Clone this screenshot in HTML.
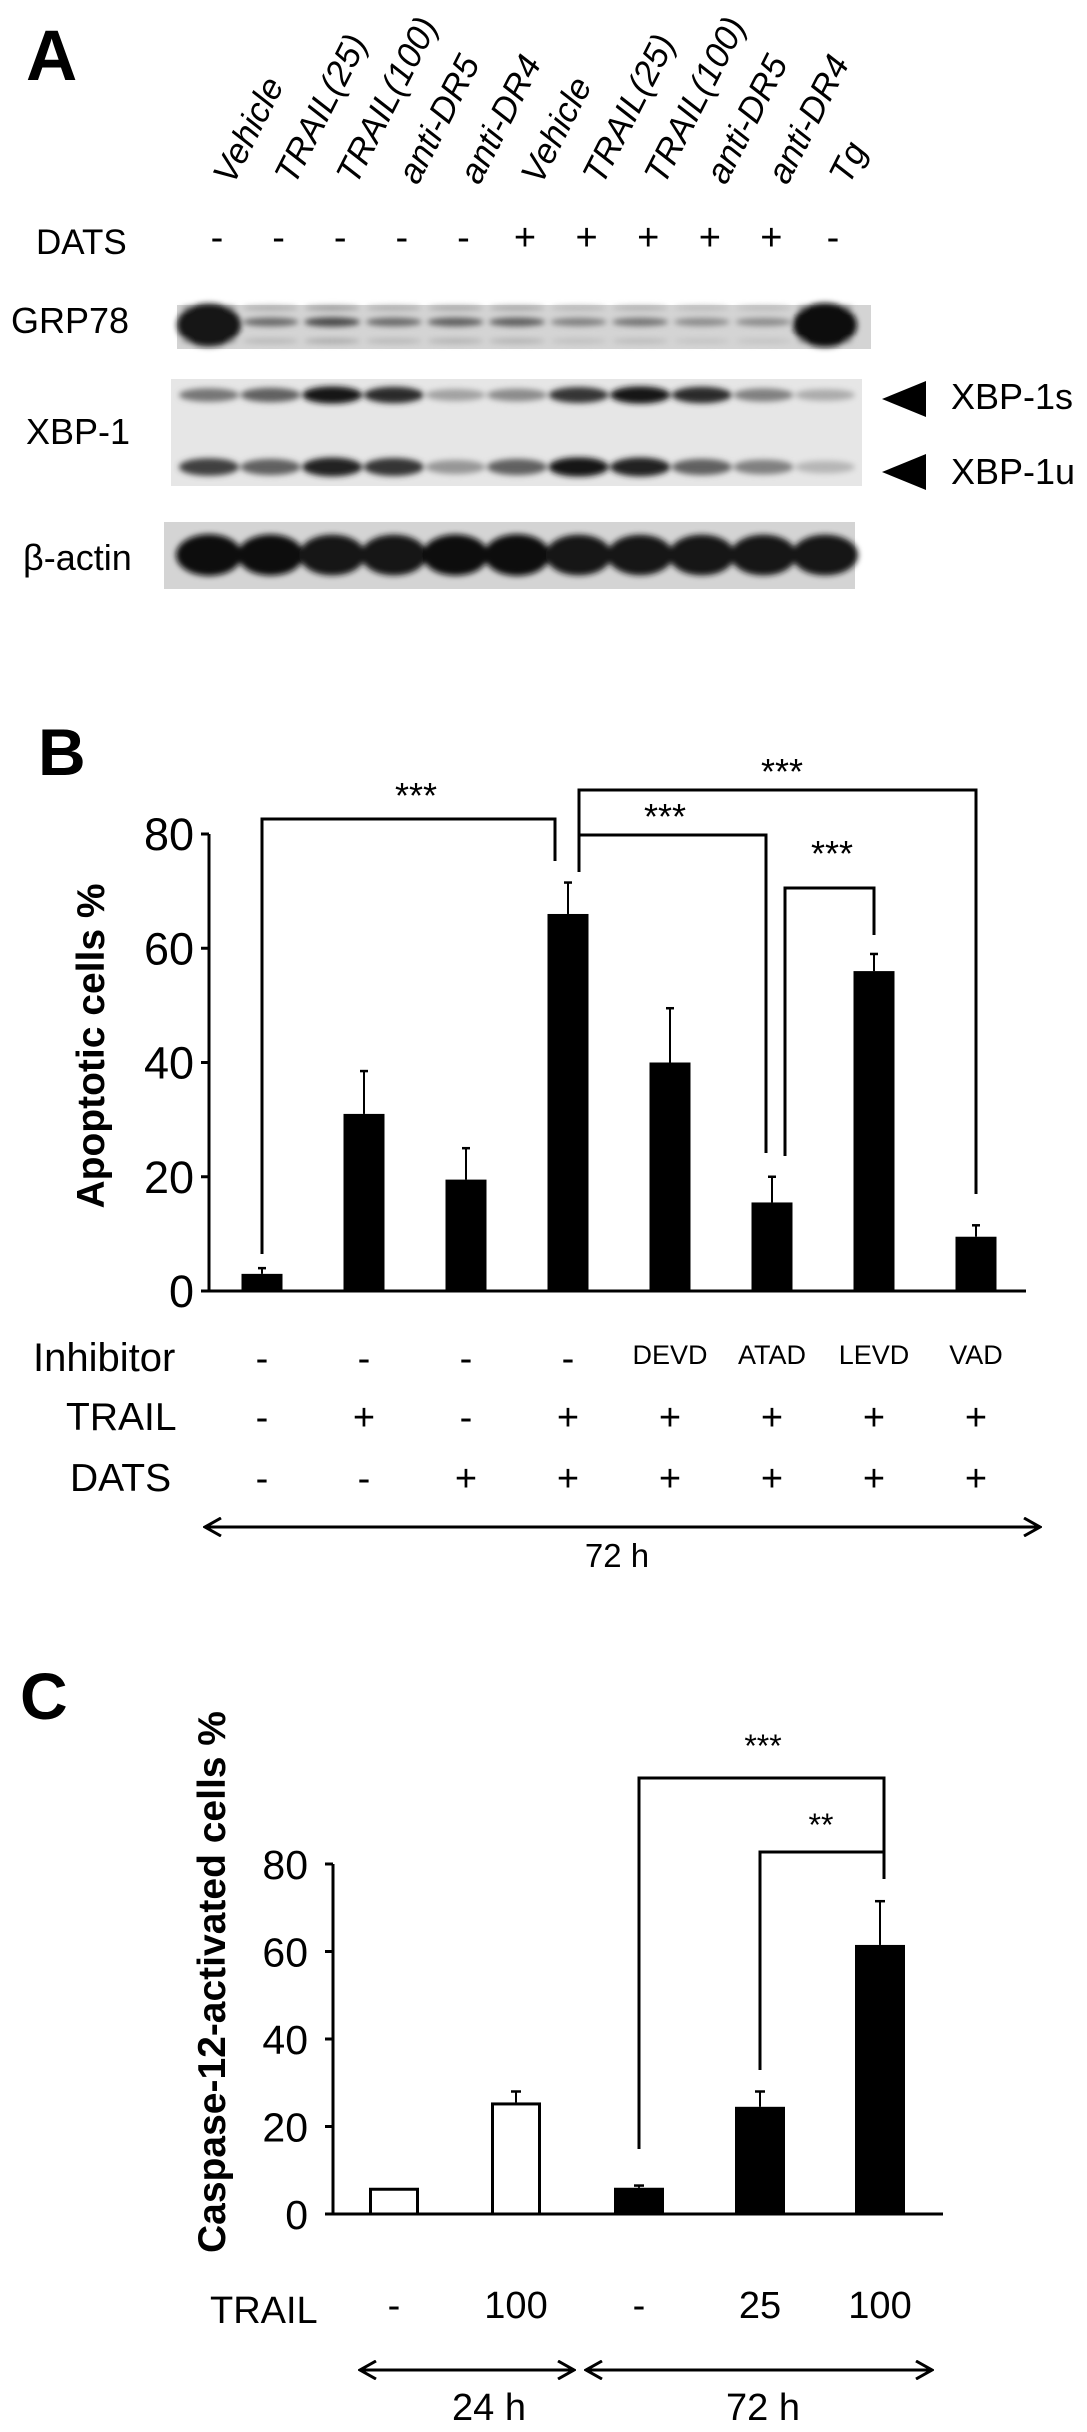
<!DOCTYPE html>
<html><head><meta charset="utf-8"><style>
html,body{margin:0;padding:0;background:#fff}
svg{display:block}
text{font-family:"Liberation Sans",sans-serif;fill:#000}
</style></head><body>
<svg id="fig" xmlns="http://www.w3.org/2000/svg" width="1087" height="2432" viewBox="0 0 1087 2432">
<defs>
<filter id="blur" x="-30%" y="-80%" width="160%" height="260%"><feGaussianBlur stdDeviation="3"/></filter>
<marker id="ah" viewBox="0 0 20 20" refX="18" refY="10" markerWidth="20" markerHeight="20" orient="auto-start-reverse" markerUnits="userSpaceOnUse"><path d="M2,1 L18,10 L2,19" fill="none" stroke="#000" stroke-width="3"/></marker>
</defs>
<g id="panelA"></g>
<g id="panelB"></g>
<g id="panelC"></g>
</svg>
<script>
// ---- Panel A data ----
const laneLabels = ["Vehicle","TRAIL(25)","TRAIL(100)","anti-DR5","anti-DR4","Vehicle","TRAIL(25)","TRAIL(100)","anti-DR5","anti-DR4","Tg"];
const datsSigns = ["-","-","-","-","-","+","+","+","+","+","-"];
const grp78 = [0.9,0.55,0.7,0.55,0.6,0.6,0.45,0.5,0.4,0.4,1.0];
const xbp1s = [0.5,0.6,0.95,0.85,0.3,0.4,0.8,0.95,0.85,0.45,0.25];
const xbp1u = [0.75,0.6,0.9,0.8,0.35,0.6,0.95,0.9,0.6,0.45,0.2];
const actin = [1,0.97,0.95,0.95,0.97,1,0.95,0.93,0.95,0.95,0.95];
// ---- Panel B data ----
const bCats = ["1","2","3","4","5","6","7","8"];
const bValues = [3,31,19.5,66,40,15.5,56,9.5];
const bErrors = [1,7.5,5.5,5.5,9.5,4.5,3,2];
const bTicks = [0,20,40,60,80];
const bInhibitor = ["-","-","-","-","DEVD","ATAD","LEVD","VAD"];
const bTrail = ["-","+","-","+","+","+","+","+"];
const bDats = ["-","-","+","+","+","+","+","+"];
// ---- Panel C data ----
const cCats = ["1","2","3","4","5"];
const cValues = [6,25.5,6,24.5,61.5];
const cErrors = [0,2.5,0.5,3.5,10];
const cFilled = [false,false,true,true,true];
const cTicks = [0,20,40,60,80];
const cTrail = ["-","100","-","25","100"];

const NS="http://www.w3.org/2000/svg";
function mk(parent,tag,attrs,txt){const e=document.createElementNS(NS,tag);for(const k in attrs)e.setAttribute(k,attrs[k]);if(txt!==undefined)e.textContent=txt;parent.appendChild(e);return e;}
function line(g,x1,y1,x2,y2,w,name){const l=mk(g,'line',{x1,y1,x2,y2,stroke:'#000','stroke-width':w||3});if(name){}return l;}

// ===== Panel A =====
const A=document.getElementById('panelA');
function lx(i){return 217+61.6*i;}
function bandX(i){return lx(i)-8;}
let t=mk(A,'text',{x:26,y:80,'font-size':71,'font-weight':'bold'},'A');


laneLabels.forEach((s,i)=>{
  const e=mk(A,'text',{x:0,y:0,'font-size':35,'font-style':'italic',transform:`translate(${lx(i)+16},${186}) rotate(-63)`},s);
  
  
});
t=mk(A,'text',{x:36,y:254,'font-size':35},'DATS');


datsSigns.forEach((s,i)=>{
  const e=mk(A,'text',{x:lx(i),y:250,'font-size':38,'text-anchor':'middle'},s);
  
  
});
function blot(name,label,tx,ty,x0,x1,y0,y1,bg,bands){
  const g=mk(A,'g',{});
  
  
  const l=mk(g,'text',{x:tx,y:ty,'font-size':36},label);
  
  
  mk(g,'rect',{x:x0,y:y0,width:x1-x0,height:y1-y0,fill:bg});
  const bg2=mk(g,'g',{filter:'url(#blur)'});
  bands.forEach(b=>{
    b.vals.forEach((v,i)=>{
      if(v<=0)return;
      const c=Math.round(225-215*v);
      mk(bg2,'ellipse',{cx:bandX(i),cy:b.y,rx:b.rx,ry:b.ry*(0.6+0.5*v),fill:`rgb(${c},${c},${c})`});
    });
  });
}
const grpBig=grp78.map((v,i)=>i===10?1:(i===0?0.95:0));
blot('grp78-blot','GRP78',11,333,177,871,305,349,'#d4d4d4',[
  {y:308,vals:grp78.map(v=>v*0.5),rx:28,ry:3},
  {y:322,vals:grp78,rx:28,ry:5},
  {y:341,vals:grp78.map(v=>v*0.35),rx:28,ry:4},
  {y:325,vals:grpBig,rx:32,ry:20}]);
blot('xbp1-blot','XBP-1',26,444,171,862,379,486,'#e6e6e6',[
  {y:395,vals:xbp1s,rx:30,ry:8},
  {y:467,vals:xbp1u,rx:30,ry:9}]);
blot('actin-blot','\u03b2-actin',23,570,164,855,522,589,'#d4d4d4',[
  {y:555,vals:actin,rx:33,ry:19}]);
[['XBP-1s',399,409],['XBP-1u',472,484]].forEach(([s,y,by])=>{
  const p=mk(A,'polygon',{points:`882,${y} 926,${y-18} 926,${y+18}`,fill:'#000'});
  
  
  const e=mk(A,'text',{x:951,y:by,'font-size':36},s);
  
  
});

function bracket(g,xa,ya,xb,yb,ytop,label,tx,ty,fs){
  const p=mk(g,'polyline',{points:`${xa},${ya} ${xa},${ytop} ${xb},${ytop} ${xb},${yb}`,fill:'none',stroke:'#000','stroke-width':3});
  
  
  const e=mk(g,'text',{x:tx,y:ty,'font-size':fs||36,'text-anchor':'middle'},label);
  
  
}

// ===== Panel B =====
const B=document.getElementById('panelB');
const bAxisX=209, bY0=1291, bY80=834;
const bStep=102, bFirst=262, bW=41;
function bx(i){return bFirst+i*bStep;}
function by(v){return bY0-(v/80)*(bY0-bY80);}
t=mk(B,'text',{x:38,y:775,'font-size':66,'font-weight':'bold'},'B');


line(B,bAxisX,by(80),bAxisX,bY0,3,'y-axis');
line(B,bAxisX-8,bY0,1026,bY0,3,'x-axis');
bTicks.forEach(v=>{
  line(B,bAxisX-8,by(v),bAxisX,by(v),3);
  const e=mk(B,'text',{x:194,y:by(v)+16,'font-size':45,'text-anchor':'end'},String(v));
  
  
});
t=mk(B,'text',{x:0,y:0,'font-size':39,'font-weight':'bold','text-anchor':'middle',transform:`translate(104,1046) rotate(-90)`},'Apoptotic cells %');


bValues.forEach((v,i)=>{
  const x=bx(i);
  const r=mk(B,'rect',{x:x-bW/2,y:by(v),width:bW,height:bY0-by(v),fill:'#000'});
  
  
  const ey=by(v+bErrors[i]);
  line(B,x,by(v),x,ey,2,'error-bar');
  line(B,x-4,ey,x+4,ey,2.5);
});
bracket(B,bx(0),1254,555,861,819,'***',416,808);
bracket(B,579,872,bx(7),1194,790,'***',782,784);
bracket(B,579,872,bx(5)-6,1153,835,'***',665,829);
bracket(B,785,1156,bx(6),935,888,'***',832,866);
[['Inhibitor',bInhibitor,1371,33,40],['TRAIL',bTrail,1430,66,39],['DATS',bDats,1491,70,39]].forEach(([lab,arr,y,x0,fs])=>{
  const e=mk(B,'text',{x:x0,y:y,'font-size':fs},lab);
  
  
  arr.forEach((s,i)=>{
    const c=mk(B,'text',{x:bx(i),y:s.length>1?y-7:y,'font-size':s.length>1?27:38,'text-anchor':'middle'},s);
    
    
  });
});
t=mk(B,'line',{x1:205,y1:1527,x2:1040,y2:1527,stroke:'#000','stroke-width':3,'marker-start':'url(#ah)','marker-end':'url(#ah)'});


t=mk(B,'text',{x:617,y:1567,'font-size':33,'text-anchor':'middle'},'72 h');



// ===== Panel C =====
const C=document.getElementById('panelC');
const cAxisX=333, cY0=2214, cY80=1864;
const cX=[394,516,639,760,880], cW=50;
function cy(v){return cY0-(v/80)*(cY0-cY80);}
t=mk(C,'text',{x:20,y:1719,'font-size':66,'font-weight':'bold'},'C');


line(C,cAxisX,cy(80),cAxisX,cY0,3,'y-axis');
line(C,cAxisX-8,cY0,943,cY0,3,'x-axis');
cTicks.forEach(v=>{
  line(C,cAxisX-8,cy(v),cAxisX,cy(v),3);
  const e=mk(C,'text',{x:308,y:cy(v)+15,'font-size':41,'text-anchor':'end'},String(v));
  
  
});
t=mk(C,'text',{x:0,y:0,'font-size':39,'font-weight':'bold','text-anchor':'middle',transform:`translate(225,1982) rotate(-90)`},'Caspase-12-activated cells %');


cValues.forEach((v,i)=>{
  const x=cX[i];
  const r=mk(C,'rect',{x:x-cW/2+1.5,y:cy(v)+1.5,width:cW-3,height:cY0-cy(v)-1.5,fill:cFilled[i]?'#000':'#fff',stroke:'#000','stroke-width':3});
  
  
  if(cErrors[i]>0){
    const ey=cy(v+cErrors[i]);
    line(C,x,cy(v),x,ey,2,'error-bar');
    line(C,x-5,ey,x+5,ey,2.5);
  }
});
bracket(C,cX[2],2149,884,1879,1778,'***',763,1757,32);
bracket(C,cX[3],2070,884,1879,1852,'**',821,1836,32);
t=mk(C,'text',{x:210,y:2323,'font-size':38},'TRAIL');


cTrail.forEach((s,i)=>{
  const e=mk(C,'text',{x:cX[i],y:2318,'font-size':38,'text-anchor':'middle'},s);
  
  
});
t=mk(C,'line',{x1:360,y1:2370,x2:574,y2:2370,stroke:'#000','stroke-width':3,'marker-start':'url(#ah)','marker-end':'url(#ah)'});


t=mk(C,'line',{x1:586,y1:2370,x2:932,y2:2370,stroke:'#000','stroke-width':3,'marker-start':'url(#ah)','marker-end':'url(#ah)'});


t=mk(C,'text',{x:489,y:2420,'font-size':38,'text-anchor':'middle'},'24 h');


t=mk(C,'text',{x:763,y:2420,'font-size':38,'text-anchor':'middle'},'72 h');


</script>
</body></html>
